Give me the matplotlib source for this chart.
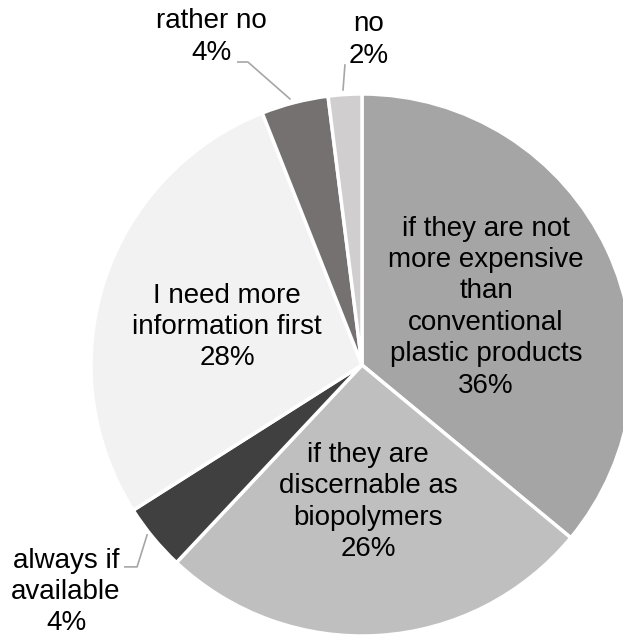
#!/usr/bin/env python3

"""
Pie chart: willingness to buy biopolymer products.
"""

import matplotlib
matplotlib.use("Agg")
import matplotlib.pyplot as plt

# data
categories = [
    "if they are not\nmore expensive\nthan\nconventional\nplastic products",
    "if they are\ndiscernable as\nbiopolymers",
    "always if\navailable",
    "I need more\ninformation first",
    "rather no",
    "no",
]
shares = [36, 26, 4, 28, 4, 2]

colors = ["#a5a5a5", "#bfbfbf", "#404040", "#f2f2f2", "#767171", "#d0cece"]

# label positions (pie radius = 1, centre at origin)
label_pos = [(0.458, 0.214), (0.022, -0.506), (-1.092, -0.838),
             (-0.498, 0.140), (-0.557, 1.210), (0.026, 1.199)]
leaders = [
    None,
    None,
    [(-0.793, -0.627), (-0.830, -0.745), (-0.875, -0.745)],
    None,
    [(-0.458, 1.118), (-0.421, 1.118), (-0.266, 0.982)],
    [(-0.063, 1.107), (-0.070, 1.015)],
]


def main():
    plt.rcParams["font.family"] = ["Liberation Sans", "DejaVu Sans"]

    fig = plt.figure(figsize=(6.23, 6.36), dpi=100)
    ax = fig.add_axes([0, 0, 1, 1])

    ax.pie(shares,
           colors=colors,
           startangle=90,
           counterclock=False,
           radius=1,
           wedgeprops=dict(edgecolor="white", linewidth=2.5))

    for cat, val, (x, y), lead in zip(categories, shares, label_pos, leaders):
        ax.text(x, y, f"{cat}\n{val}%", ha="center", va="center",
                fontsize=20, color="#000000", linespacing=1.27)
        if lead:
            xs, ys = zip(*lead)
            ax.plot(xs, ys, color="#a6a6a6", linewidth=1.2)

    # pixel-matched view: centre at (362, 365), radius 271 px
    ax.set_xlim(-362 / 271, (623 - 362) / 271)
    ax.set_ylim(-(636 - 365) / 271, 365 / 271)
    ax.set_aspect("auto")
    ax.axis("off")

    fig.savefig("out.png", dpi=100)


if __name__ == "__main__":
    main()
